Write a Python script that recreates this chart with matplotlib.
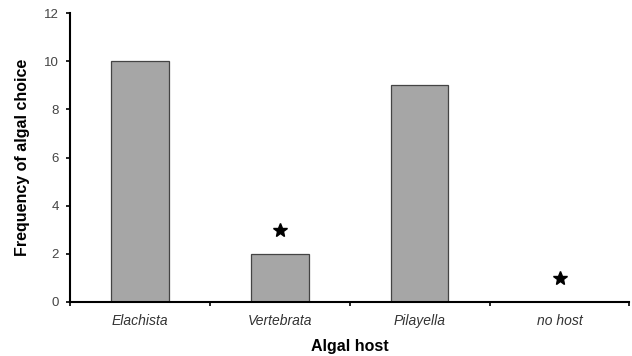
import matplotlib.pyplot as plt
import numpy as np

plt.rcParams['font.family'] = ['Liberation Sans', 'DejaVu Sans']

hosts = ['Elachista', 'Vertebrata', 'Pilayella', 'no host']
freq = [10, 2, 9, 0]
star_y = [None, 3, None, 1]

fig = plt.figure(figsize=(6.32, 3.56), dpi=100)
ax = fig.add_axes([0.111, 0.152, 0.885, 0.811])

x = np.arange(len(hosts))
ax.bar(x, freq, width=0.41, color='#a6a6a6', edgecolor='#444444', linewidth=0.9)
sx = [xi for xi, sy in zip(x, star_y) if sy is not None]
sy = [s for s in star_y if s is not None]
ax.plot(sx, sy, linestyle='none', marker='*', markersize=10, color='black')

ax.set_xlim(-0.5, len(hosts) - 0.5)
ax.set_ylim(0, 12)
ax.set_yticks(range(0, 13, 2))
ax.set_xticks(x)
ax.set_xticklabels(hosts, fontstyle='italic', fontsize=10, color='#333333')
ax.set_xticks(np.arange(-0.5, len(hosts)), minor=True)
ax.tick_params(axis='x', which='major', length=0, pad=9)
ax.tick_params(axis='x', which='minor', length=3, width=1.2, direction='out')
ax.tick_params(axis='y', length=3, width=1.2, labelsize=9.5, labelcolor='#444444', pad=5)

for s in ['top', 'right']:
    ax.spines[s].set_visible(False)
for s in ['left', 'bottom']:
    ax.spines[s].set_linewidth(1.5)

ax.set_xlabel('Algal host', fontsize=11.5, fontweight='bold', labelpad=8)
ax.set_ylabel('Frequency of algal choice', fontsize=11.5, fontweight='bold', labelpad=10)

fig.savefig('out.png', dpi=100)
